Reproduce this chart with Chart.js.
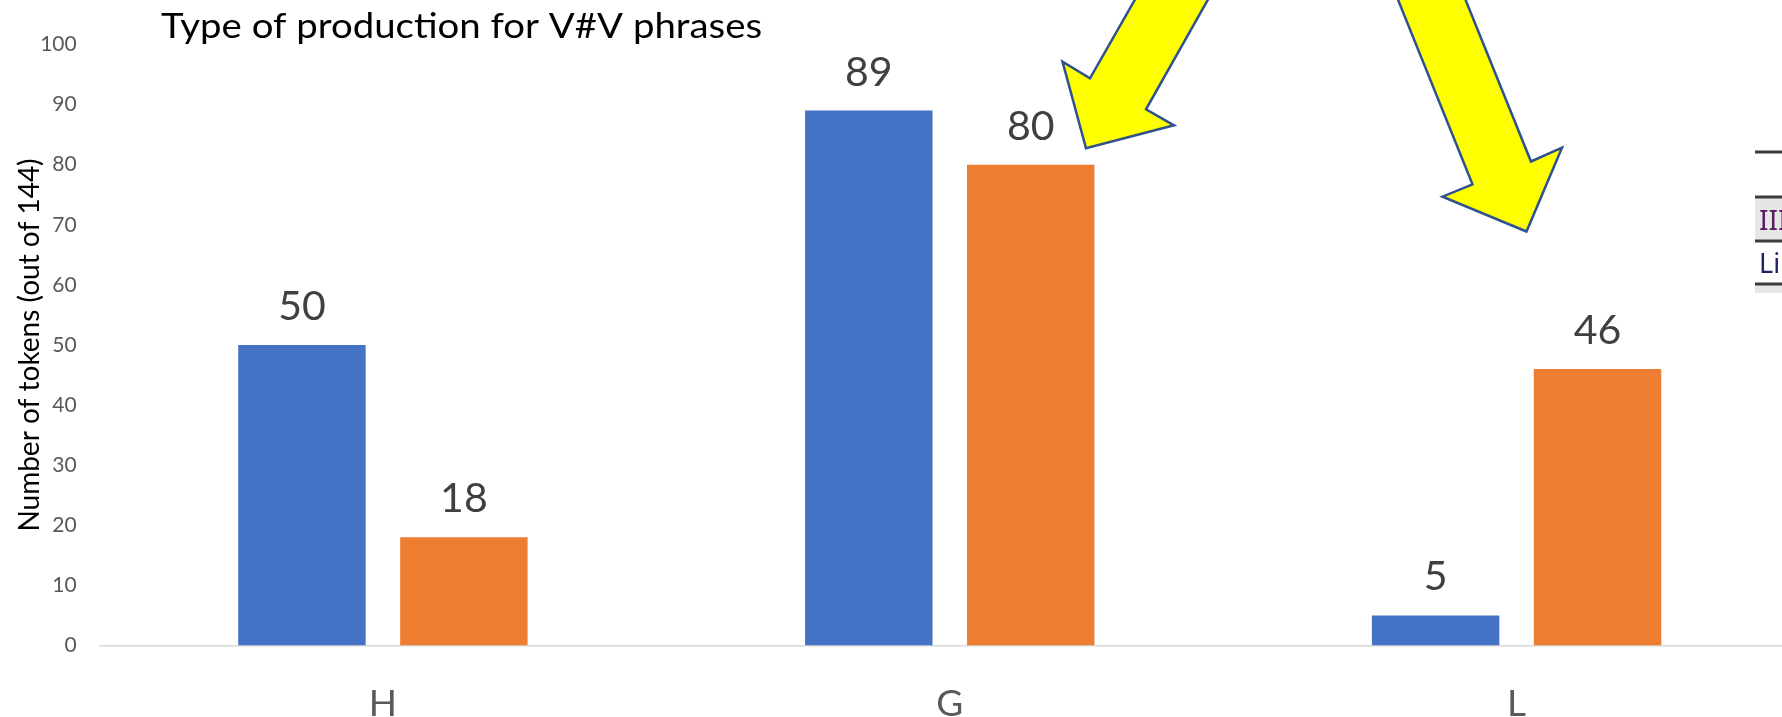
<!DOCTYPE html>
<html><head><meta charset="utf-8">
<script src="https://cdn.jsdelivr.net/npm/chart.js@4.4.1/dist/chart.umd.min.js"></script>
<style>html,body{margin:0;padding:0;overflow:hidden;background:#fff;width:1782px;height:717px}canvas{display:block}</style>
</head><body>
<canvas id="c" width="1800" height="717"></canvas>
<script>
const categories = ['H', 'G', 'L'];
const seriesBlue = [50, 89, 5];
const seriesOrange = [18, 80, 46];
const yMin = 0, yMax = 100, yStep = 10;
const chartTitle = 'Type of production for V#V phrases';
const yAxisTitle = 'Number of tokens (out of 144)';
const tableFragmentRows = ['III', 'Li'];

const FONT = 'Lato';

const titlePlugin = {
  id: 'leftTitle',
  afterDraw(chart) {
    const ctx = chart.ctx;
    ctx.save();
    ctx.font = '35px ' + FONT;
    ctx.fillStyle = '#000000';
    ctx.textAlign = 'left';
    ctx.textBaseline = 'alphabetic';
    const w = ctx.measureText(chartTitle).width;
    const target = 601;
    ctx.translate(161, 37.5);
    ctx.scale(target / w, 1);
    ctx.fillText(chartTitle, 0, 0);
    ctx.restore();
  }
};

const valueLabels = {
  id: 'valueLabels',
  afterDatasetsDraw(chart) {
    const ctx = chart.ctx;
    ctx.save();
    ctx.font = '41px ' + FONT;
    ctx.fillStyle = '#404040';
    ctx.textAlign = 'center';
    ctx.textBaseline = 'alphabetic';
    chart.data.datasets.forEach((ds, i) => {
      chart.getDatasetMeta(i).data.forEach((bar, j) => {
        ctx.fillText(String(ds.data[j]), bar.x, bar.y - 25);
      });
    });
    ctx.restore();
  }
};

const decorations = {
  id: 'decorations',
  afterDraw(chart) {
    const ctx = chart.ctx;
    ctx.save();
    // yellow callout arrows
    const arrows = [
      [[1137, -4], [1090, 78.3], [1062.5, 61.7], [1086, 148.3], [1174, 125.3], [1146, 109.3], [1210, -4]],
      [[1396.5, -4], [1472.5, 184.3], [1442.5, 196.7], [1526.5, 231.5], [1562, 147.7], [1531, 161.5], [1464, -4]]
    ];
    ctx.fillStyle = '#ffff00';
    ctx.strokeStyle = '#2f528f';
    ctx.lineWidth = 2.5;
    ctx.lineJoin = 'miter';
    arrows.forEach(pts => {
      ctx.beginPath();
      pts.forEach((p, k) => k ? ctx.lineTo(p[0], p[1]) : ctx.moveTo(p[0], p[1]));
      ctx.closePath();
      ctx.fill();
      ctx.stroke();
    });
    // fragment of a table at the right edge
    const x0 = 1755;
    ctx.fillStyle = '#e6e6e6';
    ctx.fillRect(x0, 197, 60, 44);
    ctx.fillRect(x0, 284, 60, 9);
    ctx.fillStyle = '#3c3c3c';
    [152, 197, 241, 284].forEach(y => ctx.fillRect(x0, y - 1.5, 60, 3));
    ctx.textAlign = 'left';
    ctx.textBaseline = 'alphabetic';
    ctx.font = '28px "Noto Sans"';
    ctx.fillStyle = '#5b1c62';
    ctx.fillText(tableFragmentRows[0], 1759, 230);
    ctx.fillStyle = '#1c2462';
    ctx.font = '27px "Noto Sans"';
    ctx.fillText(tableFragmentRows[1], 1759, 273);
    ctx.restore();
  }
};

new Chart(document.getElementById('c'), {
  type: 'bar',
  data: {
    labels: categories,
    datasets: [
      { label: 'Series 1', data: seriesBlue, backgroundColor: '#4472c4', barPercentage: 0.787, categoryPercentage: 0.5714 },
      { label: 'Series 2', data: seriesOrange, backgroundColor: '#ed7d31', barPercentage: 0.787, categoryPercentage: 0.5714 }
    ]
  },
  options: {
    responsive: false,
    animation: false,
    devicePixelRatio: 1,
    layout: { padding: { top: 44.5, left: 0, right: 0, bottom: 0 } },
    plugins: { legend: { display: false }, tooltip: { enabled: false }, title: { display: false } },
    scales: {
      x: {
        grid: { display: true, drawOnChartArea: false, drawTicks: false },
        border: { display: true, color: '#d9d9d9', width: 1.5 },
        ticks: { color: '#595959', font: { family: FONT, size: 37, lineHeight: 1 }, padding: 40 },
        afterFit(s) { s.height = 71.5; }
      },
      y: {
        min: yMin, max: yMax,
        ticks: { stepSize: yStep, color: '#595959', font: { family: FONT, size: 21 }, padding: 22.8 },
        grid: { display: false, drawTicks: false },
        border: { display: false },
        title: { display: true, text: yAxisTitle, color: '#000000', font: { family: FONT, size: 28, lineHeight: 1.2 }, padding: { top: 13, bottom: 0 } },
        afterFit(s) { s.width = 99.5; }
      }
    }
  },
  plugins: [titlePlugin, valueLabels, decorations]
});
</script>
</body></html>
